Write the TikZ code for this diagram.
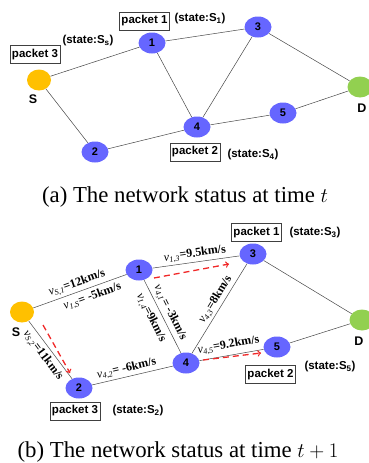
\documentclass[tikz,border=0pt]{standalone}
\usepackage{fontspec}
\setmainfont{Liberation Serif}
\setsansfont{Liberation Sans}
\usepackage{tikz}
\usetikzlibrary{positioning, shapes.geometric, arrows}

\definecolor{nodeblue}{RGB}{102,102,255}
\definecolor{srcorange}{RGB}{255,192,0}
\definecolor{dstgreen}{RGB}{146,208,80}
\definecolor{linkgray}{RGB}{70,70,70}
\definecolor{movered}{RGB}{240,40,40}

\newcommand{\vel}[2]{\textit{v}\textsubscript{\textit{#1}}\textbf{=#2}}
\newcommand{\stt}[1]{(state:S\textsubscript{#1})}

\begin{document}
\begin{tikzpicture}[x=1pt, y=-1pt,
    router/.style={ellipse, fill=nodeblue, minimum width=27pt, minimum height=21pt, inner sep=0pt,
        font=\sffamily\bfseries\fontsize{11}{11}\selectfont},
    source/.style={router, fill=srcorange, minimum width=24pt},
    sink/.style={router, fill=dstgreen, minimum width=25pt},
    link/.style={draw=linkgray, line width=0.5pt},
    move/.style={draw=movered, line width=1.3pt, dash pattern=on 6pt off 4pt, ->},
    pkt/.style={draw=black!75, line width=0.6pt, inner xsep=2pt, minimum height=18pt,
        font=\sffamily\bfseries\fontsize{11.5}{12}\selectfont},
    st/.style={font=\sffamily\bfseries\fontsize{11.5}{12}\selectfont},
    lbl/.style={font=\sffamily\bfseries\fontsize{12.5}{13}\selectfont},
    speed/.style={sloped, inner sep=1pt, font=\fontsize{12}{12}\selectfont},
    caption/.style={font=\fontsize{22.8}{24}\selectfont}]
    \useasboundingbox (0,0) rectangle (368,463);

    % (a) status at time t
    \node[source] (Sa) at (39,80) {};
    \node[router] (a1) at (152,43) {1};
    \node[router] (a3) at (258,27) {3};
    \node[sink]   (Da) at (360,87) {};
    \node[router] (a5) at (283,113) {5};
    \node[router] (a4) at (197,127) {4};
    \node[router] (a2) at (95,152) {2};
    \node[lbl] (SaL) at (33,99) {S};
    \node[lbl] (DaL) at (362,108) {D};
    \draw[link] (Sa) -- (a1);
    \draw[link] (Sa) -- (a2);
    \draw[link] (a1) -- (a3);
    \draw[link] (a1) -- (a4);
    \draw[link] (a4) -- (a3);
    \draw[link] (a3) -- (Da);
    \draw[link] (a4) -- (a5);
    \draw[link] (a5) -- (Da);
    \draw[link] (a2) -- (a4);
    \node[pkt] (pa1) at (144.5,21) {packet 1};
    \node[st]  (sa1) at (200,19) {\stt{1}};
    \node[st]  (saS) at (88,41) {\stt{s}};
    \node[pkt] (pa3) at (35,54.5) {packet 3};
    \node[pkt] (pa2) at (195,152) {packet 2};
    \node[st]  (sa4) at (253,155) {\stt{4}};
    \node[caption] (capA) at (185,197) {(a) The network status at time $t$};

    % (b) status at time t+1
    \node[source] (Sb) at (22,312) {};
    \node[router] (b1) at (139,270) {1};
    \node[router] (b3) at (253,254) {3};
    \node[sink]   (Db) at (362,320) {};
    \node[router] (b5) at (277,347) {5};
    \node[router] (b4) at (186,363) {4};
    \node[router] (b2) at (79,388) {2};
    \node[lbl] (SbL) at (16,332) {S};
    \node[lbl] (DbL) at (359,341) {D};
    \draw[link] (Sb) -- node[speed, above=1.5pt, pos=0.5] {\vel{S,1}{12km/s}}
                        node[speed, below=2.5pt, pos=0.6] {\vel{1,S}{ -5km/s}} (b1);
    \draw[link] (Sb) -- node[speed, below=2.5pt, pos=0.5] {\vel{S,2}{11km/s}} (b2);
    \draw[link] (b1) -- node[speed, above=1pt, pos=0.5] {\vel{1,3}{9.5km/s}} (b3);
    \draw[link] (b1) -- node[speed, above=1.5pt, pos=0.5] {\vel{4,1}{ -3km/s}}
                        node[speed, below=4pt, pos=0.45] {\vel{1,4}{9km/s}} (b4);
    \draw[link] (b4) -- node[speed, above=1pt, pos=0.55] {\vel{4,3}{8km/s}} (b3);
    \draw[link] (b3) -- (Db);
    \draw[link] (b4) -- node[speed, above=3pt, pos=0.48] {\vel{4,5}{9.2km/s}} (b5);
    \draw[link] (b5) -- (Db);
    \draw[link] (b2) -- node[speed, above=1pt, pos=0.45] {\vel{4,2}{ -6km/s}} (b4);
    \coordinate (m13s) at (154,278);
    \coordinate (m13e) at (229,264);
    \coordinate (mS2s) at (43,325);
    \coordinate (mS2e) at (70,373);
    \coordinate (m45s) at (203,360);
    \coordinate (m45e) at (261,353);
    \draw[move] (m13s) -- (m13e);
    \draw[move] (mS2s) -- (mS2e);
    \draw[move] (m45s) -- (m45e);
    \node[pkt] (pb1) at (256.5,232.5) {packet 1};
    \node[st]  (sb3) at (315,233) {\stt{3}};
    \node[pkt] (pb2) at (270.5,374.5) {packet 2};
    \node[st]  (sb5) at (330,367) {\stt{5}};
    \node[pkt] (pb3) at (75,411) {packet 3};
    \node[st]  (sb2) at (138,411) {\stt{2}};
    \node[caption] (capB) at (178,452) {(b) The network status at time $t+1$};
\end{tikzpicture}
\end{document}
